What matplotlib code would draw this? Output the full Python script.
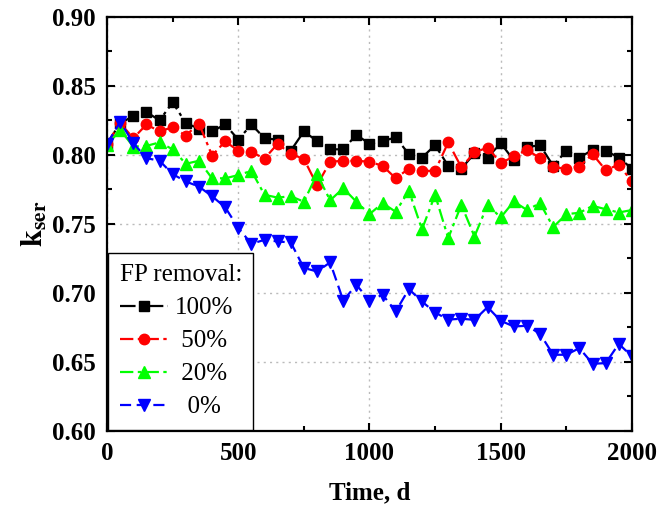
import matplotlib
matplotlib.use("Agg")
import matplotlib.pyplot as plt
import numpy as np

plt.rcParams['font.family'] = ['Liberation Serif', 'DejaVu Serif']
plt.rcParams['mathtext.fontset'] = 'stix'

time_d = list(range(0, 2001, 50))

k_100 = [0.808, 0.823, 0.828, 0.831, 0.825, 0.838, 0.823, 0.819, 0.817, 0.822,
         0.811, 0.822, 0.812, 0.811, 0.803, 0.817, 0.810, 0.804, 0.804, 0.8145,
         0.808, 0.810, 0.8126, 0.8005, 0.798, 0.807, 0.792, 0.790, 0.801, 0.798,
         0.8085, 0.796, 0.8056, 0.807, 0.792, 0.803, 0.798, 0.8036, 0.803, 0.798,
         0.790]
k_50 = [0.808, 0.823, 0.812, 0.822, 0.817, 0.820, 0.814, 0.8227, 0.7995, 0.8097,
        0.803, 0.802, 0.7973, 0.808, 0.8007, 0.797, 0.778, 0.795, 0.7957, 0.7957,
        0.795, 0.792, 0.783, 0.790, 0.7884, 0.7884, 0.809, 0.791, 0.8017, 0.8053,
        0.794, 0.7988, 0.8036, 0.7976, 0.791, 0.790, 0.7915, 0.8005, 0.789, 0.7928,
        0.7807]
k_20 = [0.807, 0.818, 0.806, 0.8065, 0.809, 0.804, 0.7935, 0.7957, 0.783, 0.783,
        0.7853, 0.7884, 0.771, 0.769, 0.770, 0.766, 0.786, 0.767, 0.7758, 0.766,
        0.757, 0.765, 0.7587, 0.774, 0.746, 0.771, 0.7396, 0.7638, 0.7408, 0.7638,
        0.7546, 0.7662, 0.760, 0.765, 0.7476, 0.757, 0.758, 0.763, 0.7606, 0.7582,
        0.760]
k_0 = [0.808, 0.824, 0.8085, 0.7976, 0.7957, 0.786, 0.7807, 0.777, 0.770, 0.762,
       0.747, 0.7355, 0.7384, 0.7372, 0.7365, 0.718, 0.7155, 0.722, 0.6944, 0.7058,
       0.6944, 0.6986, 0.6865, 0.7027, 0.6937, 0.6857, 0.6806, 0.6812, 0.6804, 0.6896,
       0.6797, 0.6756, 0.6761, 0.6703, 0.6551, 0.6551, 0.6599, 0.6486, 0.649, 0.663,
       0.6539]

labels = ["100%", " 50%", " 20%", "  0%"]
legend_title = "FP removal:"
x_ticks = [0, 500, 1000, 1500, 2000]
y_ticks = [0.60, 0.65, 0.70, 0.75, 0.80, 0.85, 0.90]

fig = plt.figure(figsize=(6.61, 5.11), dpi=100)
ax = fig.add_axes([0.162, 0.157, 0.794, 0.810])

series = [k_100, k_50, k_20, k_0]
colors = ['#000000', '#FF0000', '#00FF00', '#0000FF']
markers = ['s', 'o', '^', 'v']
styles = [(0, (7, 2, 1.5, 2)), (0, (6, 2, 1.5, 2)), (0, (6, 2, 1.5, 2)), (0, (5, 2.5))]
msizes = [6.5, 7.5, 8, 8]

for s, c, m, ls, ms, lab in zip(series, colors, markers, styles, msizes, labels):
    ax.plot(time_d, s, color=c, marker=m, markersize=ms, linestyle=ls,
            linewidth=1.6, label=lab)

ax.set_xlim(0, 2000)
ax.set_ylim(0.60, 0.90)
ax.set_xticks(x_ticks)
ax.set_yticks(y_ticks)
ax.set_yticklabels([f"{v:.2f}" for v in y_ticks])
ax.set_xticks([250, 750, 1250, 1750], minor=True)
ax.set_yticks(np.arange(0.625, 0.9, 0.05), minor=True)

ax.grid(True, which='major', linestyle=(0, (1.5, 3)), color='#BBBBBB', linewidth=1.0)
ax.set_axisbelow(True)

ax.tick_params(which='both', direction='in', top=True, right=True, width=1.5)
ax.tick_params(which='major', length=6, pad=8, labelsize=18)
ax.tick_params(which='minor', length=3.5)
for lbl in ax.get_xticklabels() + ax.get_yticklabels():
    lbl.set_fontweight('bold')
for sp in ax.spines.values():
    sp.set_linewidth(1.6)

ax.set_xlabel("Time, d", fontsize=18, fontweight='bold', labelpad=12)
ax.set_ylabel(r"$\mathbf{k}_{\mathbf{ser}}$", fontsize=22, labelpad=2)

leg = ax.legend(loc='lower left', title=legend_title, alignment='left',
                fontsize=18, title_fontsize=18, frameon=True, fancybox=False,
                edgecolor='black', framealpha=1, borderaxespad=0.05,
                handlelength=1.95, handletextpad=0.25, labelspacing=0.42,
                borderpad=0.45)
leg.get_frame().set_linewidth(1.0)

fig.savefig("out.png", dpi=100)
